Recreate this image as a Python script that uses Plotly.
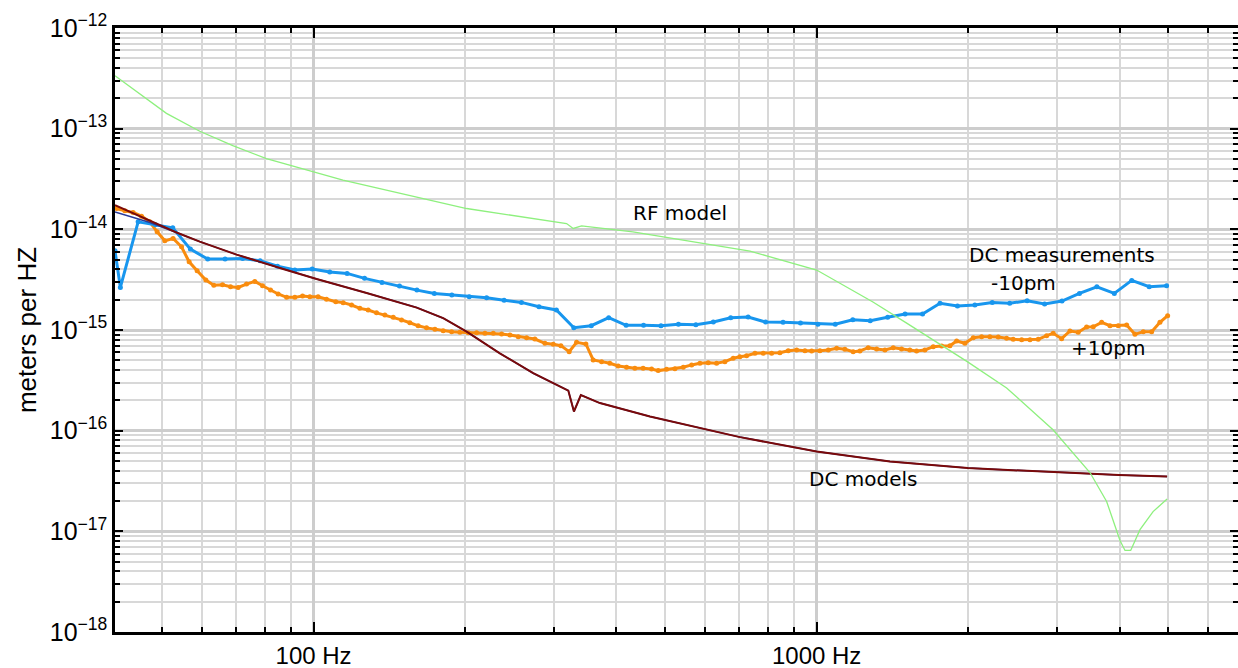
import math
import plotly.graph_objects as go

# ---- RF model (light green) ----
rf_freq = [40.3, 43.8, 51.0, 59.4, 69.1, 80.6, 102.9, 114.4, 201.5, 318.4, 328.2, 341.0,
           431.3, 736.9, 1000, 1294, 1510, 1996, 2386, 2950, 3494, 3771, 4009, 4102,
           4210, 4393, 4664, 4973]
rf_psd = [3.36e-13, 2.46e-13, 1.42e-13, 9.42e-14, 6.77e-14, 5.04e-14, 3.59e-14, 3.08e-14,
          1.61e-14, 1.14e-14, 1.02e-14, 1.08e-14, 9.45e-15, 6.08e-15, 3.94e-15, 1.90e-15,
          1.17e-15, 4.82e-16, 2.66e-16, 1.02e-16, 3.84e-17, 1.98e-17, 8.1e-18, 6.46e-18,
          6.46e-18, 1.04e-17, 1.57e-17, 2.09e-17]

# ---- DC models (+10pm maroon, -10pm navy underneath) ----
dc_model_freq = [40.3, 47.3, 53.4, 59.4, 70.3, 87.0, 101.4, 127.5, 160.3, 181.0, 201.5,
                 234.6, 273.3, 320.9, 329.3, 339.9, 370.9, 466.3, 586.1, 703.9, 1000,
                 1399, 1996, 2987, 3985, 4973]
dc_model_plus = [1.74e-14, 1.21e-14, 9.31e-15, 7.55e-15, 5.61e-15, 4.03e-15, 3.21e-15,
                 2.33e-15, 1.67e-15, 1.31e-15, 9.62e-16, 5.87e-16, 3.72e-16, 2.50e-16,
                 1.55e-16, 2.26e-16, 1.88e-16, 1.38e-16, 1.06e-16, 8.63e-17, 6.21e-17,
                 4.94e-17, 4.25e-17, 3.84e-17, 3.62e-17, 3.51e-17]
dc_model_minus = [1.49e-14, 1.17e-14, 9.31e-15, 7.55e-15, 5.61e-15, 4.03e-15, 3.21e-15,
                  2.33e-15, 1.67e-15, 1.31e-15, 9.62e-16, 5.87e-16, 3.72e-16, 2.50e-16,
                  1.55e-16, 2.26e-16, 1.88e-16, 1.38e-16, 1.06e-16, 8.63e-17, 6.21e-17,
                  4.94e-17, 4.25e-17, 3.84e-17, 3.62e-17, 3.51e-17]

# ---- DC measurement, -10pm offset (blue) ----
minus_freq = [40.3, 41.3, 44.8, 48.5, 52.5, 56.9, 61.6, 66.7, 72.3, 78.3, 84.8, 91.8,
              99.4, 107.7, 116.6, 126.3, 136.8, 148.2, 160.5, 173.8, 188.3, 203.9, 220.8,
              239.2, 259.0, 280.6, 303.9, 329.1, 356.5, 386.1, 418.1, 452.9, 490.5, 531.2,
              575.4, 623.2, 674.9, 731.0, 791.7, 857.5, 928.7, 1006, 1089, 1180, 1278,
              1384, 1499, 1624, 1759, 1905, 2063, 2234, 2420, 2621, 2839, 3074, 3330,
              3606, 3906, 4230, 4582, 4962]
minus_psd = [6.12e-15, 2.65e-15, 1.187e-14, 1.108e-14, 1.035e-14, 6.36e-15, 5.06e-15,
             5.06e-15, 5.14e-15, 4.87e-15, 4.31e-15, 3.94e-15, 4.03e-15, 3.76e-15,
             3.65e-15, 3.26e-15, 2.97e-15, 2.73e-15, 2.49e-15, 2.31e-15, 2.23e-15,
             2.14e-15, 2.09e-15, 1.98e-15, 1.88e-15, 1.70e-15, 1.58e-15, 1.054e-15,
             1.103e-15, 1.324e-15, 1.113e-15, 1.113e-15, 1.103e-15, 1.139e-15, 1.128e-15,
             1.200e-15, 1.324e-15, 1.346e-15, 1.200e-15, 1.192e-15, 1.173e-15, 1.139e-15,
             1.139e-15, 1.265e-15, 1.237e-15, 1.336e-15, 1.441e-15, 1.441e-15, 1.840e-15,
             1.730e-15, 1.770e-15, 1.880e-15, 1.840e-15, 1.953e-15, 1.811e-15, 1.940e-15,
             2.31e-15, 2.69e-15, 2.31e-15, 3.11e-15, 2.69e-15, 2.75e-15]

# ---- DC measurement, +10pm offset (orange) ----
plus_freq = [40.58, 42.16, 43.79, 45.50, 47.26, 48.87, 50.62, 52.58, 54.64, 56.58, 58.69,
             61.07, 63.35, 65.93, 68.39, 70.81, 73.59, 76.43, 79.17, 82.12, 85.03, 88.39,
             91.80, 95.09, 98.32, 102.1, 106.1, 110.7, 114.5, 119.0, 123.6, 128.4, 133.4,
             138.6, 144.0, 149.6, 155.4, 161.4, 167.7, 174.3, 181.0, 188.1, 195.4, 203.0,
             210.9, 219.1, 227.6, 236.5, 245.7, 255.2, 265.1, 275.4, 288.3, 299.5, 310.2,
             322.2, 333.3, 347.8, 359.6, 373.7, 388.1, 403.2, 419.0, 435.2, 452.0, 469.8,
             484.2, 503.2, 522.7, 543.0, 564.3, 586.1, 608.8, 632.6, 657.1, 682.5, 703.8,
             725.7, 754.0, 783.2, 813.9, 845.3, 878.1, 912.5, 947.8, 977.4, 1015, 1055,
             1096, 1138, 1182, 1219, 1266, 1316, 1367, 1420, 1475, 1532, 1580, 1641, 1705,
             1772, 1841, 1898, 1971, 2048, 2128, 2210, 2296, 2386, 2459, 2556, 2655, 2757,
             2865, 2953, 3069, 3188, 3311, 3441, 3547, 3686, 3829, 3977, 4133, 4293, 4459,
             4634, 4813, 4986]
plus_psd = [1.612e-14, 1.526e-14, 1.471e-14, 1.352e-14, 1.187e-14, 9.45e-15, 7.69e-15,
            8.12e-15, 6.71e-15, 4.76e-15, 3.88e-15, 3.13e-15, 2.78e-15, 2.81e-15, 2.69e-15,
            2.65e-15, 2.86e-15, 3.04e-15, 2.75e-15, 2.49e-15, 2.28e-15, 2.11e-15, 2.11e-15,
            2.18e-15, 2.14e-15, 2.14e-15, 2.02e-15, 1.91e-15, 1.87e-15, 1.77e-15, 1.64e-15,
            1.58e-15, 1.48e-15, 1.41e-15, 1.34e-15, 1.26e-15, 1.18e-15, 1.10e-15, 1.05e-15,
            1.02e-15, 9.84e-16, 9.62e-16, 9.49e-16, 9.40e-16, 9.40e-16, 9.27e-16, 9.27e-16,
            9.13e-16, 8.92e-16, 8.58e-16, 8.39e-16, 8.14e-16, 7.38e-16, 7.21e-16, 6.99e-16,
            6.09e-16, 7.55e-16, 7.26e-16, 5.04e-16, 4.85e-16, 4.67e-16, 4.39e-16, 4.27e-16,
            4.17e-16, 4.17e-16, 4.10e-16, 3.95e-16, 4.07e-16, 4.13e-16, 4.27e-16, 4.50e-16,
            4.67e-16, 4.74e-16, 4.67e-16, 4.85e-16, 5.24e-16, 5.43e-16, 5.56e-16, 5.87e-16,
            5.87e-16, 5.87e-16, 5.95e-16, 6.23e-16, 6.33e-16, 6.23e-16, 6.19e-16, 6.23e-16,
            6.33e-16, 6.58e-16, 6.43e-16, 6.09e-16, 6.19e-16, 6.67e-16, 6.48e-16, 6.33e-16,
            6.67e-16, 6.48e-16, 6.33e-16, 6.19e-16, 6.33e-16, 6.83e-16, 6.94e-16, 6.99e-16,
            7.78e-16, 7.38e-16, 8.39e-16, 8.58e-16, 8.58e-16, 8.52e-16, 8.27e-16, 8.08e-16,
            8.01e-16, 8.01e-16, 8.08e-16, 8.78e-16, 9.27e-16, 8.20e-16, 9.77e-16, 9.49e-16,
            1.071e-15, 1.078e-15, 1.192e-15, 1.103e-15, 1.103e-15, 1.121e-15, 9.06e-16,
            9.62e-16, 9.62e-16, 1.192e-15, 1.387e-15]

# ---- axis ticks ----
x_major = [100, 1000]
x_major_text = ["100 Hz", "1000 Hz"]
y_exponents = [-18, -17, -16, -15, -14, -13, -12]

fig = go.Figure()

fig.add_trace(go.Scatter(x=plus_freq, y=plus_psd, mode="lines+markers",
                         line=dict(color="#f98c0e", width=3),
                         marker=dict(color="#f98c0e", size=5)))
fig.add_trace(go.Scatter(x=minus_freq, y=minus_psd, mode="lines+markers",
                         line=dict(color="#1896ee", width=3),
                         marker=dict(color="#1896ee", size=5)))
fig.add_trace(go.Scatter(x=dc_model_freq, y=dc_model_minus, mode="lines",
                         line=dict(color="#2a3a9a", width=1.5)))
fig.add_trace(go.Scatter(x=dc_model_freq, y=dc_model_plus, mode="lines",
                         line=dict(color="#7a0a0a", width=2)))
fig.add_trace(go.Scatter(x=rf_freq, y=rf_psd, mode="lines",
                         line=dict(color="#8ef07e", width=1.3)))

label_font = dict(family="DejaVu Sans", size=20, color="black")
labels = [
    ("RF model", 0.503, 0.693),
    ("DC measurements", 0.843, 0.624),
    ("-10pm", 0.809, 0.577),
    ("+10pm", 0.8845, 0.470),
    ("DC models", 0.666, 0.253),
]
for text, px, py in labels:
    fig.add_annotation(text=text, x=px, y=py, xref="paper", yref="paper",
                       xanchor="center", yanchor="middle", showarrow=False,
                       font=label_font)

x_minor = [d * 10 ** e for e in (1, 2, 3) for d in range(2, 10)]
y_minor = [d * 10.0 ** e for e in range(-18, -12) for d in range(2, 10)]

fig.update_xaxes(
    type="log", automargin=False,
    range=[math.log10(40.3), math.log10(6880)],
    tickmode="array", tickvals=x_major, ticktext=x_major_text,
    ticks="inside", ticklen=10, tickwidth=2, tickcolor="black",
    showline=True, linewidth=2.5, linecolor="black", mirror="ticks",
    showgrid=True, gridcolor="#cdcdcd", gridwidth=3, zeroline=False,
    ticklabelstandoff=0,
    tickfont=dict(family="Liberation Sans", size=24, color="black"),
    minor=dict(tickmode="array", tickvals=x_minor, ticks="inside", ticklen=5,
               tickwidth=1.5, tickcolor="black", showgrid=True,
               gridcolor="#d8d8d8", gridwidth=2),
)
fig.update_yaxes(
    type="log", automargin=False,
    range=[-18, -12],
    tickmode="array",
    tickvals=[10.0 ** e for e in y_exponents],
    ticktext=["10<sup>\u2212%d</sup>" % (-e) for e in y_exponents],
    ticks="inside", ticklen=8, tickwidth=2, tickcolor="black",
    showline=True, linewidth=2.5, linecolor="black", mirror="ticks",
    showgrid=True, gridcolor="#cdcdcd", gridwidth=3, zeroline=False,
    tickfont=dict(family="Liberation Sans", size=25, color="black"),
    title=dict(text="meters per HZ", standoff=6,
               font=dict(family="Liberation Sans", size=26, color="black")),
    minor=dict(tickmode="array", tickvals=y_minor, ticks="inside", ticklen=5,
               tickwidth=1.5, tickcolor="black", showgrid=True,
               gridcolor="#d8d8d8", gridwidth=2),
)

fig.update_layout(
    width=1238, height=668,
    margin=dict(l=115, r=0, t=28, b=36),
    paper_bgcolor="white", plot_bgcolor="white",
    showlegend=False,
)

fig.write_html("out.html")
